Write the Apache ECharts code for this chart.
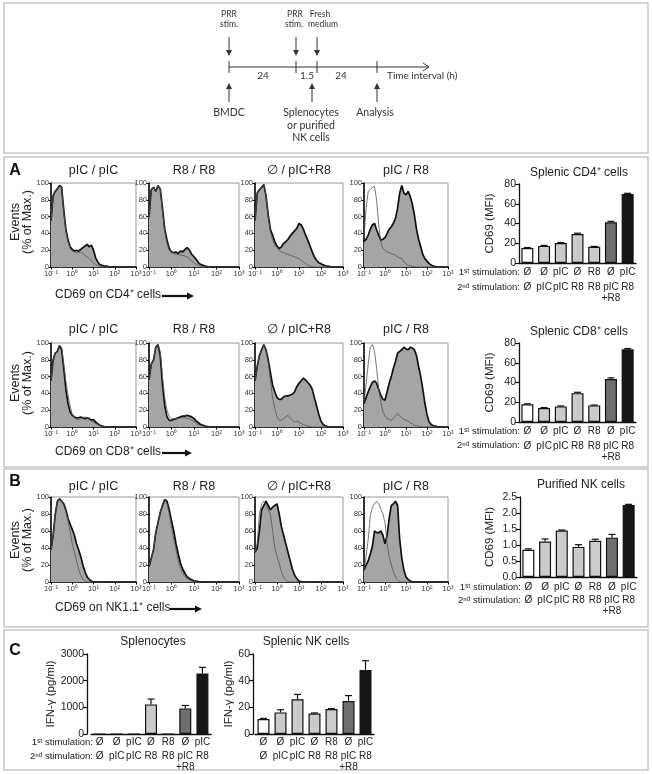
<!DOCTYPE html>
<html><head><meta charset="utf-8">
<script src="https://cdn.jsdelivr.net/npm/echarts@6/dist/echarts.min.js"></script>
<style>html,body{margin:0;padding:0;background:#fff}#c{width:652px;height:774px}</style>
</head><body><div id="c"></div>
<script>
// ---------------- DATA ----------------
const logX = [-1.0,-0.9,-0.8,-0.7,-0.6,-0.5,-0.4,-0.3,-0.2,-0.1,0.0,0.1,0.2,0.3,0.4,0.5,0.6,0.7,0.8,0.9,1.0,1.1,1.2,1.3,1.4,1.5,1.6,1.7,1.8,1.9,2.0,2.1,2.2,2.3,2.4,2.5,2.6,2.7,2.8,2.9,3.0];
const xTickLabels = ['10⁻¹','10⁰','10¹','10²','10³'];
const histTitles = ['pIC / pIC','R8 / R8','∅ / pIC+R8','pIC / R8'];

// CD4 (stimulated = filled, control = thin line)
const cd4_pICpIC_stim = [55,85,90,93,97,95,68,45,32,24,21,19,20,19,21,23,25,27,24,26,20,11,6,3,2,1,1,0.5,0,0,0,0,0,0,0,0,0,0,0,0,0];
const cd4_pICpIC_ctrl = [55,85,90,93,97,95,65,42,30,22,19,18,17,17,18,16,14,12,10,7,5,3,2,1,0.5,0,0,0,0,0,0,0,0,0,0,0,0,0,0,0,0];
const cd4_R8R8_stim = [60,92,95,90,97,93,70,45,32,22,18,17,18,16,19,18,21,23,20,15,12,9,5,3,2,1,0.5,0.3,0,0,0,0,0,0,0,0,0,0,0,0,0];
const cd4_R8R8_ctrl = [60,92,95,90,97,93,66,42,28,20,18,16,15,15,14,14,13,12,10,7,5,3,2,1,0.5,0,0,0,0,0,0,0,0,0,0,0,0,0,0,0,0];
const cd4_0pICR8_stim = [55,88,92,95,98,85,62,45,38,30,25,22,24,28,30,33,37,40,43,46,52,50,45,38,32,25,18,12,8,5,4,2.5,1.5,1,0.5,0,0,0,0,0,0];
const cd4_0pICR8_ctrl = [55,88,92,95,98,85,60,42,32,26,23,20,18,17,16,15,14,13,12,11,10,8,6,4,2,1,0.5,0,0,0,0,0,0,0,0,0,0,0,0,0,0];
const cd4_pICR8_stim = [30,33,38,45,50,52,44,38,32,33,35,40,45,48,52,58,70,88,97,88,86,90,84,75,62,45,33,24,15,10,7,4,2.5,1,0.5,0,0,0,0,0,0];
const cd4_pICR8_ctrl = [35,70,90,92,95,96,80,50,30,22,20,18,17,16,15,14,12,11,10,6,4,2,1.5,1,0.5,0,0,0,0,0,0,0,0,0,0,0,0,0,0,0,0];
// CD8
const cd8_pICpIC_stim = [55,80,88,90,97,92,70,45,28,18,14,12,11,11,12,11,10,11,10,8,9,6,4,2,1,0.5,0,0,0,0,0,0,0,0,0,0,0,0,0,0,0];
const cd8_pICpIC_ctrl = [55,80,88,90,97,95,75,55,38,25,15,11,9,9,10,11,12,11,9,7,6,4,3,1.5,1,0.5,0,0,0,0,0,0,0,0,0,0,0,0,0,0,0];
const cd8_R8R8_stim = [56,75,80,95,98,85,50,25,12,8,8,9,10,11,12,13,13,14,13,12,10,7,5,3,2,1,0.5,0,0,0,0,0,0,0,0,0,0,0,0,0,0];
const cd8_R8R8_ctrl = [56,75,80,95,98,90,60,35,20,12,10,10,10,10,11,11,11,10,10,8,7,4,2.5,1.5,1,0.5,0,0,0,0,0,0,0,0,0,0,0,0,0,0,0];
const cd8_0pICR8_stim = [55,72,85,92,98,92,80,65,50,42,35,33,33,36,37,37,38,39,42,48,52,55,58,56,53,50,45,35,25,15,7,3,1.5,0.5,0,0,0,0,0,0,0];
const cd8_0pICR8_ctrl = [55,72,85,92,98,90,78,55,35,22,12,8,8,10,12,14,11,8,6,7,6,4,3,2,1,0.5,0,0,0,0,0,0,0,0,0,0,0,0,0,0,0];
const cd8_pICR8_stim = [28,35,42,48,53,55,52,45,38,33,32,42,52,60,70,78,88,90,92,95,93,92,95,94,92,85,72,60,45,28,15,6,3,1.5,1,0.5,0,0,0,0,0];
const cd8_pICR8_ctrl = [30,50,75,95,98,90,70,45,30,18,13,10,9,8,10,13,16,13,11,9,8,7,5,4,2,1.5,1,0.5,0,0,0,0,0,0,0,0,0,0,0,0,0];
// NK1.1
const nk_pICpIC_stim = [38,55,80,95,98,95,92,85,75,68,62,55,45,38,30,20,12,6,3,1,0,0,0,0,0,0,0,0,0,0,0,0,0,0,0,0,0,0,0,0,0];
const nk_pICpIC_ctrl = [38,55,80,95,98,95,90,83,72,60,45,35,25,15,8,3,1,0,0,0,0,0,0,0,0,0,0,0,0,0,0,0,0,0,0,0,0,0,0,0,0];
const nk_R8R8_stim = [18,28,38,58,70,82,90,97,95,85,72,60,45,33,22,15,10,6,4,2.5,1.5,1,0.5,0,0,0,0,0,0,0,0,0,0,0,0,0,0,0,0,0,0];
const nk_R8R8_ctrl = [18,28,38,58,70,82,92,97,92,80,65,50,38,25,16,10,6,4,2,1,0.5,0,0,0,0,0,0,0,0,0,0,0,0,0,0,0,0,0,0,0,0];
const nk_0pICR8_stim = [35,40,60,85,90,95,90,85,88,90,92,80,65,55,45,35,25,15,8,4,1,0.5,0,0,0,0,0,0,0,0,0,0,0,0,0,0,0,0,0,0,0];
const nk_0pICR8_ctrl = [35,45,80,92,95,90,85,80,60,40,30,22,12,5,2,0.5,0,0,0,0,0,0,0,0,0,0,0,0,0,0,0,0,0,0,0,0,0,0,0,0,0];
const nk_pICR8_stim = [14,20,25,33,42,60,58,58,60,55,45,55,75,90,92,95,90,50,28,14,6,3,1,0.5,0,0,0,0,0,0,0,0,0,0,0,0,0,0,0,0,0];
const nk_pICR8_ctrl = [13,30,50,78,88,92,95,92,86,80,70,45,30,20,12,6,2,0.5,0,0,0,0,0,0,0,0,0,0,0,0,0,0,0,0,0,0,0,0,0,0,0];

// Bar charts
const stim1 = ['Ø','Ø','pIC','Ø','R8','Ø','pIC'];
const stim2 = ['Ø','pIC','pIC','R8','R8','pIC\n+R8','R8'];
const cd4Mfi = [15.2,17.3,20.2,29.4,16.4,41.2,69.8];
const cd4Err = [0.5,0.5,0.5,0.8,0.4,1.0,0.8];
const cd8Mfi = [18.0,14.2,15.8,29.2,16.8,43.5,73.6];
const cd8Err = [0.4,0.4,0.5,0.9,0.4,1.2,0.8];
const nkMfi = [0.85,1.11,1.45,0.94,1.13,1.23,2.25];
const nkErr = [0.03,0.08,0.02,0.07,0.05,0.10,0.02];
const splenoIfn = [0,0,0,1110,0,960,2270];
const splenoIfnErr = [0,0,0,200,0,110,230];
const nkIfn = [11.2,16.2,26.0,15.3,18.7,24.8,48.0];
const nkIfnErr = [0.5,2.0,3.7,0.5,0.3,4.0,7.0];
const barColors = ['#ffffff','#cbcbcb','#cbcbcb','#cbcbcb','#cbcbcb','#6e6e6e','#161616'];

// ---------------- LAYOUT ----------------
const FONT = 'Liberation Sans';
const histCols = [{left:51,width:85},{left:149,width:90},{left:255,width:88},{left:364,width:84}];
const histRows = [
  {top:183,height:84,titleY:171,stim:[cd4_pICpIC_stim,cd4_R8R8_stim,cd4_0pICR8_stim,cd4_pICR8_stim],ctrl:[cd4_pICpIC_ctrl,cd4_R8R8_ctrl,cd4_0pICR8_ctrl,cd4_pICR8_ctrl]},
  {top:343,height:84,titleY:330,stim:[cd8_pICpIC_stim,cd8_R8R8_stim,cd8_0pICR8_stim,cd8_pICR8_stim],ctrl:[cd8_pICpIC_ctrl,cd8_R8R8_ctrl,cd8_0pICR8_ctrl,cd8_pICR8_ctrl]},
  {top:497,height:85,titleY:487,stim:[nk_pICpIC_stim,nk_R8R8_stim,nk_0pICR8_stim,nk_pICR8_stim],ctrl:[nk_pICpIC_ctrl,nk_R8R8_ctrl,nk_0pICR8_ctrl,nk_pICR8_ctrl]}
];

const grids=[], xAxes=[], yAxes=[], series=[], graphics=[];

function T(x,y,text,size,o){
  o=o||{};
  return {type:'text',x:x,y:y,rotation:o.rot||0,z:50,
    style:{text:text,fontSize:size,fontFamily:o.font||FONT,fontWeight:o.bold?'bold':'normal',fill:o.color||'#222',
      textAlign:o.align||'center',textVerticalAlign:'middle',align:o.align||'center',verticalAlign:'middle'}};
}
function L(x1,y1,x2,y2,w,c){return {type:'line',z:50,shape:{x1:x1,y1:y1,x2:x2,y2:y2},style:{stroke:c||'#222',lineWidth:w||1}};}
function P(pts,c){return {type:'polygon',z:50,shape:{points:pts},style:{fill:c||'#222'}};}

// histograms
histRows.forEach(function(row){
  histCols.forEach(function(col,ci){
    const g = grids.length;
    grids.push({left:col.left,top:row.top,width:col.width,height:row.height,show:true,borderColor:'#999',borderWidth:1,backgroundColor:'transparent'});
    xAxes.push({type:'value',gridIndex:g,min:-1,max:3,interval:1,
      axisLine:{show:true,onZero:false,lineStyle:{color:'#000',width:1.5}},
      axisTick:{show:true,length:2.5,lineStyle:{color:'#000'}},
      axisLabel:{fontSize:7.5,margin:3,color:'#333',fontFamily:FONT,showMinLabel:true,showMaxLabel:true,
        formatter:function(v){return xTickLabels[Math.round(v)+1];}},
      splitLine:{show:false}});
    yAxes.push({type:'value',gridIndex:g,min:0,max:100,interval:20,
      axisLine:{show:true,onZero:false,lineStyle:{color:'#000',width:1.5}},
      axisTick:{show:true,length:2.5,lineStyle:{color:'#000'}},
      axisLabel:{fontSize:7.5,margin:2,color:'#333',fontFamily:FONT},
      splitLine:{show:false}});
    const s = row.stim[ci], c = row.ctrl[ci];
    series.push({type:'line',xAxisIndex:g,yAxisIndex:g,showSymbol:false,symbol:'none',z:2,
      data:logX.map(function(x,i){return [x,s[i]];}),
      lineStyle:{color:'#111',width:1.7},areaStyle:{color:'#a5a5a5',opacity:1}});
    series.push({type:'line',xAxisIndex:g,yAxisIndex:g,showSymbol:false,symbol:'none',z:3,
      data:logX.map(function(x,i){return [x,c[i]];}),
      lineStyle:{color:'#555',width:0.8}});
    graphics.push(T(col.left+col.width/2,row.titleY,histTitles[ci],12.5));
  });
});

// bar charts
const barCharts = [
  {vals:cd4Mfi,err:cd4Err,max:80,interval:20,grid:{left:519,top:184,width:117,height:79},yOff:0,name:'CD69 (MFI)',nameGap:23,
   title:'Splenic CD4⁺ cells',titleX:579,titleY:173,m1:4,off2:15,headers:true,hx:520,fmt:null},
  {vals:cd8Mfi,err:cd8Err,max:80,interval:20,grid:{left:519,top:343,width:117,height:79},yOff:0,name:'CD69 (MFI)',nameGap:23,
   title:'Splenic CD8⁺ cells',titleX:579,titleY:332,m1:4.5,off2:14,headers:true,hx:520,fmt:null},
  {vals:nkMfi,err:nkErr,max:2.5,interval:0.5,grid:{left:520,top:497,width:117,height:80},yOff:0,name:'CD69 (MFI)',nameGap:24,
   title:'Purified NK cells',titleX:581,titleY:485,m1:5,off2:13,headers:true,hx:521,fmt:function(v){return v.toFixed(1);}},
  {vals:splenoIfn,err:splenoIfnErr,max:3000,interval:1000,grid:{left:91,top:654,width:120,height:80},yOff:4,name:'IFN-γ (pg/ml)',nameGap:20,
   title:'Splenocytes',titleX:153,titleY:642,m1:3,off2:14,headers:true,hx:93,fmt:null},
  {vals:nkIfn,err:nkIfnErr,max:60,interval:20,grid:{left:255,top:654,width:119,height:80},yOff:2,name:'IFN-γ (pg/ml)',nameGap:18,
   title:'Splenic NK cells',titleX:306,titleY:642,m1:3,off2:14,headers:false,fmt:null}
];

barCharts.forEach(function(b){
  const g = grids.length;
  grids.push(Object.assign({show:false},b.grid));
  const xi = xAxes.length;
  xAxes.push({type:'category',gridIndex:g,data:stim1,
    axisLine:{show:true,onZero:false,lineStyle:{color:'#111',width:1.3}},
    axisTick:{show:false},axisLabel:{fontSize:10,margin:b.m1,color:'#222',interval:0,fontFamily:FONT}});
  xAxes.push({type:'category',gridIndex:g,data:stim2,position:'bottom',offset:b.off2,
    axisLine:{show:false},axisTick:{show:false},
    axisLabel:{fontSize:10,margin:b.m1,color:'#222',interval:0,lineHeight:11,fontFamily:FONT}});
  const yi = yAxes.length;
  const yl = {fontSize:10.5,margin:3,color:'#222',fontFamily:FONT,
    formatter: b.fmt ? b.fmt : function(v){return String(v);}};
  yAxes.push({type:'value',gridIndex:g,min:0,max:b.max,interval:b.interval,offset:b.yOff,
    axisLine:{show:true,onZero:false,lineStyle:{color:'#111',width:1.3}},
    axisTick:{show:true,length:4,lineStyle:{color:'#111',width:1.2}},
    axisLabel:yl,splitLine:{show:false},
    name:b.name,nameLocation:'middle',nameGap:b.nameGap,nameTextStyle:{fontSize:11.5,color:'#222',fontFamily:FONT}});
  series.push({type:'bar',xAxisIndex:xi,yAxisIndex:yi,barWidth:12,z:2,
    data:b.vals.map(function(v,i){return {value:v,itemStyle:{color:barColors[i]}};}),
    itemStyle:{borderColor:'#111',borderWidth:1.2}});
  series.push({type:'custom',xAxisIndex:xi,yAxisIndex:yi,z:4,encode:{x:0,y:1},
    data:b.vals.map(function(v,i){return [i,v,b.err[i]];}),
    renderItem:function(params,api){
      const e = api.value(2);
      if (!e) return null;
      const top = api.coord([api.value(0), api.value(1)+e]);
      const base = api.coord([api.value(0), api.value(1)]);
      return {type:'group',children:[
        {type:'line',shape:{x1:top[0],y1:top[1],x2:base[0],y2:base[1]},style:{stroke:'#111',lineWidth:1.2}},
        {type:'line',shape:{x1:top[0]-3.5,y1:top[1],x2:top[0]+3.5,y2:top[1]},style:{stroke:'#111',lineWidth:1.2}}
      ]};
    }});
  graphics.push(T(b.titleX,b.titleY,b.title,12));
  if (b.headers){
    const axY = b.grid.top+b.grid.height;
    graphics.push(T(b.hx,axY+b.m1+5,'1ˢᵗ stimulation:',9.5,{align:'right'}));
    graphics.push(T(b.hx,axY+b.off2+b.m1+5,'2ⁿᵈ stimulation:',9.5,{align:'right'}));
  }
});

// panel frames
[[4,3,644,150],[4,157,644,310],[4,469,644,158],[4,630,644,140]].forEach(function(r){
  graphics.push({type:'rect',z:0,shape:{x:r[0],y:r[1],width:r[2],height:r[3]},style:{fill:'none',stroke:'#c6c6c6',lineWidth:1.5}});
});
// panel letters
graphics.push(T(15,171,'A',16,{bold:true,color:'#111'}));
graphics.push(T(15,482,'B',16,{bold:true,color:'#111'}));
graphics.push(T(15,651,'C',16,{bold:true,color:'#111'}));
// Events labels and x titles with arrows
[[222,295,'CD69 on CD4⁺ cells',162,194],[383,452,'CD69 on CD8⁺ cells',162,192],[540,608,'CD69 on NK1.1⁺ cells',170,202]].forEach(function(r){
  graphics.push(T(16,r[0],'Events',12.5,{rot:Math.PI/2}));
  graphics.push(T(28,r[0],'(% of Max.)',12.5,{rot:Math.PI/2}));
  graphics.push(T(55,r[1],r[2],12,{align:'left'}));
  graphics.push(L(r[3],r[1]+1,r[4]-6,r[1]+1,2.2,'#111'));
  graphics.push(P([[r[4]-7,r[1]-2.5],[r[4],r[1]+1],[r[4]-7,r[1]+4.5]],'#111'));
});

// timeline schematic
const TF = 'Lato';
graphics.push(L(229,67,428,67,1,'#333'));
graphics.push(L(423,63,429,67,1,'#333'));
graphics.push(L(423,71,429,67,1,'#333'));
[229,296,317,377].forEach(function(x){graphics.push(L(x,61,x,73,1,'#333'));});
[229,296,317].forEach(function(x){
  graphics.push(L(x,37,x,51,1,'#333'));
  graphics.push(P([[x-3,50],[x+3,50],[x,56]],'#333'));
});
[229,312,377].forEach(function(x){
  graphics.push(L(x,102,x,88,1,'#333'));
  graphics.push(P([[x-3,89],[x+3,89],[x,83]],'#333'));
});
graphics.push(T(229,14,'PRR',8.5,{font:TF,color:'#333'}));
graphics.push(T(229,24,'stim.',8.5,{font:TF,color:'#333'}));
graphics.push(T(295,14,'PRR',8.5,{font:TF,color:'#333'}));
graphics.push(T(294,24,'stim.',8.5,{font:TF,color:'#333'}));
graphics.push(T(320,14,'Fresh',8.5,{font:TF,color:'#333'}));
graphics.push(T(323,24,'medium',8.5,{font:TF,color:'#333'}));
graphics.push(T(263,76,'24',10,{font:TF,color:'#333'}));
graphics.push(T(307,76,'1.5',10,{font:TF,color:'#333'}));
graphics.push(T(341,76,'24',10,{font:TF,color:'#333'}));
graphics.push(T(387,76,'Time interval (h)',10,{font:TF,color:'#333',align:'left'}));
graphics.push(T(229,113,'BMDC',10.5,{font:TF,color:'#333'}));
graphics.push(T(311,113,'Splenocytes',10.5,{font:TF,color:'#333'}));
graphics.push(T(311,126,'or purified',10.5,{font:TF,color:'#333'}));
graphics.push(T(311,138,'NK cells',10.5,{font:TF,color:'#333'}));
graphics.push(T(375,113,'Analysis',10.5,{font:TF,color:'#333'}));

const chart = echarts.init(document.getElementById('c'),null,{renderer:'canvas'});
chart.setOption({
  animation:false,
  backgroundColor:'#ffffff',
  textStyle:{fontFamily:FONT},
  grid:grids, xAxis:xAxes, yAxis:yAxes, series:series,
  graphic:{elements:graphics}
});
</script></body></html>
